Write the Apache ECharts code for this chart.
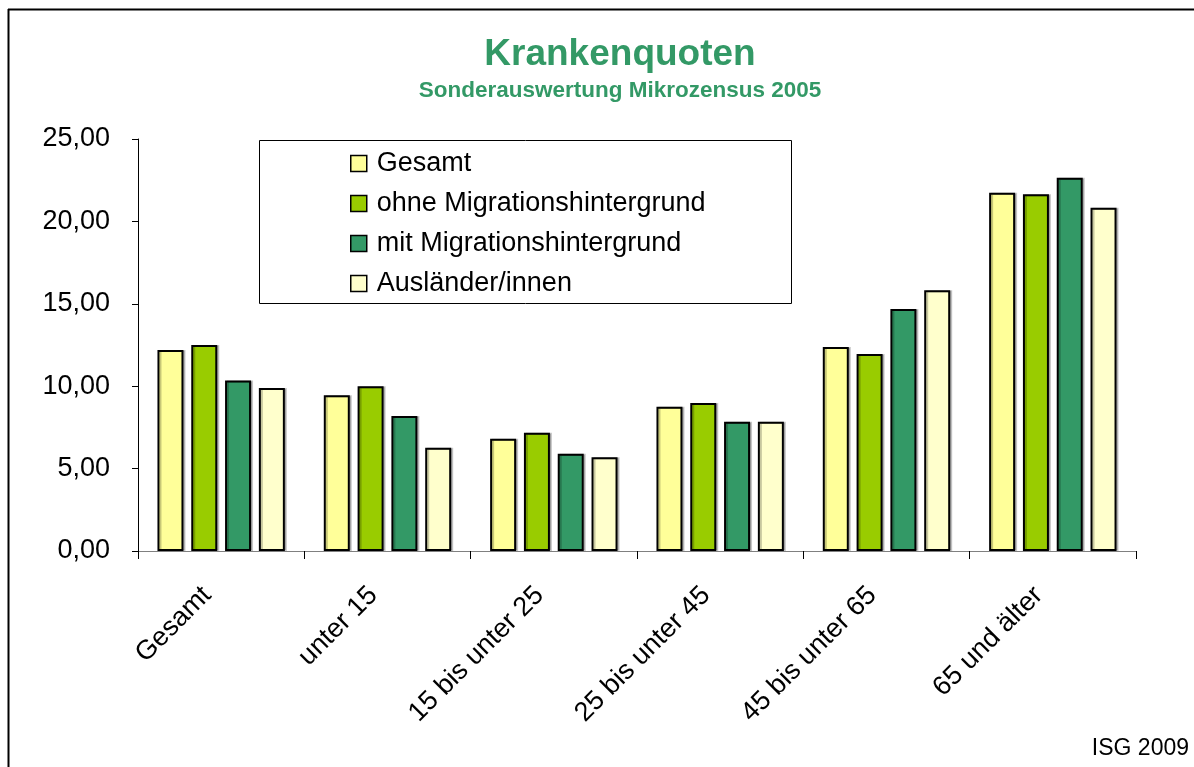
<!DOCTYPE html>
<html>
<head>
<meta charset="UTF-8">
<title>Krankenquoten</title>
<script src="https://cdn.jsdelivr.net/npm/echarts@6/dist/echarts.min.js"></script>
<style>
  * { margin: 0; padding: 0; }
  body { background: #fff; }
  #container { width: 1194px; height: 767px; }
</style>
</head>
<body>
<div id="container"></div>
<script>
// Altersgruppen
var categories = ['Gesamt', 'unter 15', '15 bis unter 25', '25 bis unter 45', '45 bis unter 65', '65 und älter'];
var seriesNames = ['Gesamt', 'ohne Migrationshintergrund', 'mit Migrationshintergrund', 'Ausländer/innen'];
// Krankenquoten in %
var gesamt = [12.20, 9.45, 6.81, 8.76, 12.38, 21.74];
var ohneMig = [12.50, 9.99, 7.18, 8.98, 11.95, 21.64];
var mitMig = [10.35, 8.19, 5.90, 7.85, 14.68, 22.65];
var auslaender = [9.89, 6.27, 5.69, 7.85, 15.82, 20.83];
var yTicks = [0, 5, 10, 15, 20, 25];

var colors = ['#FFFF99', '#99CC00', '#339966', '#FFFFCC'];
var values = [gesamt, ohneMig, mitMig, auslaender];
var font = '"Liberation Sans", Arial, sans-serif';

var series = [];
for (var i = 0; i < seriesNames.length; i++) {
  series.push({
    name: seriesNames[i],
    type: 'bar',
    data: values[i],
    barWidth: 26,
    barGap: '30%',
    itemStyle: {
      color: colors[i], borderColor: '#000', borderWidth: 2,
      shadowColor: 'rgba(0,0,0,0.22)', shadowOffsetX: 2, shadowOffsetY: 0, shadowBlur: 0
    }
  });
}

var myChart = echarts.init(document.getElementById('container'));
myChart.setOption({
  animation: false,
  textStyle: { fontFamily: font },
  title: [{
    text: 'ISG 2009',
    right: 5,
    top: 737,
    padding: 0,
    textStyle: { color: '#000', fontSize: 23, fontWeight: 'normal', fontFamily: font }
  }],
  legend: {
    orient: 'vertical',
    left: 350,
    top: 150,
    padding: 0,
    icon: 'rect',
    itemWidth: 16,
    itemHeight: 16,
    itemGap: 13,
    selectedMode: false,
    itemStyle: { borderWidth: 1.5, shadowColor: 'transparent' },
    textStyle: { fontSize: 27, lineHeight: 27, color: '#000', fontFamily: font, padding: [0, 0, 0, 5] },
    data: seriesNames
  },
  graphic: [
    { type: 'text', x: 620, y: 55,
      style: { text: 'Krankenquoten', fill: '#339966', fontSize: 37, fontWeight: 'bold', fontFamily: font,
               align: 'center', verticalAlign: 'middle', textAlign: 'center', textVerticalAlign: 'middle' } },
    { type: 'text', x: 620, y: 91,
      style: { text: 'Sonderauswertung Mikrozensus 2005', fill: '#339966', fontSize: 22.5, fontWeight: 'bold', fontFamily: font,
               align: 'center', verticalAlign: 'middle', textAlign: 'center', textVerticalAlign: 'middle' } },
    { type: 'rect', shape: { x: 259.5, y: 140.5, width: 532, height: 163 },
      style: { fill: 'none', stroke: '#000', lineWidth: 1 }, z: -1 },
    { type: 'line', shape: { x1: 8, y1: 9.5, x2: 1194, y2: 9.5 },
      style: { stroke: '#000', lineWidth: 2 } },
    { type: 'line', shape: { x1: 8.5, y1: 9, x2: 8.5, y2: 767 },
      style: { stroke: '#000', lineWidth: 2 } }
  ],
  grid: { left: 138, right: 58, top: 139, bottom: 216 },
  xAxis: {
    type: 'category',
    data: categories,
    axisLine: { lineStyle: { color: '#808080', width: 1 } },
    axisTick: { show: true, length: 8, interval: 0, lineStyle: { color: '#000' } },
    axisLabel: { interval: 0, rotate: 45, fontSize: 27, color: '#000', margin: 26, padding: [0, 20, 0, 0], fontFamily: font }
  },
  yAxis: {
    type: 'value',
    min: 0,
    max: 25,
    interval: 5,
    splitLine: { show: false },
    axisLine: { show: true, lineStyle: { color: '#000', width: 1 } },
    axisTick: { show: true, length: 6, lineStyle: { color: '#000' } },
    axisLabel: {
      fontSize: 27, color: '#000', margin: 28, fontFamily: font,
      customValues: yTicks,
      formatter: function (v) { return v.toFixed(2).replace('.', ','); }
    }
  },
  series: series
});
</script>
</body>
</html>
